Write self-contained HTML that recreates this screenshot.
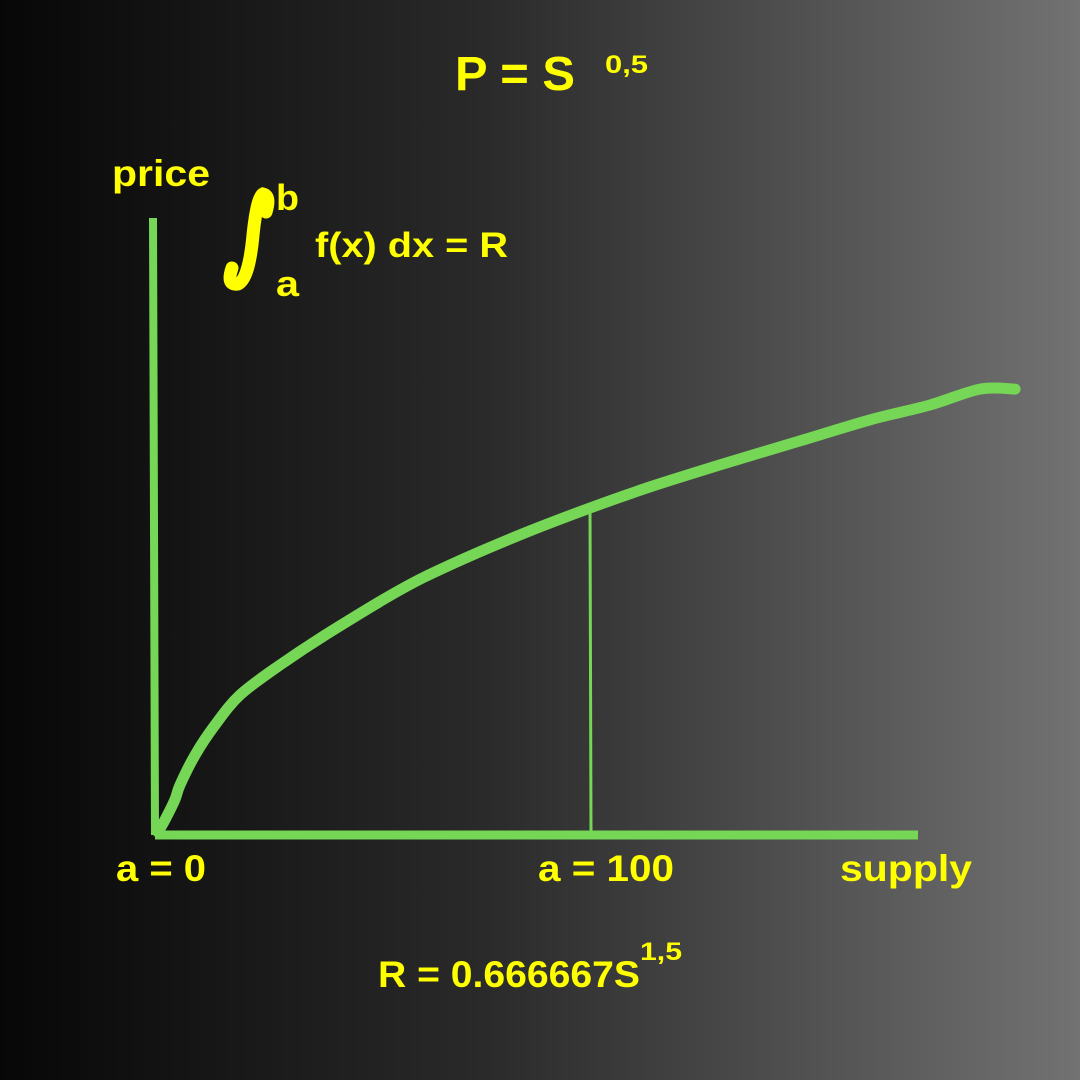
<!DOCTYPE html>
<html><head><meta charset="utf-8"><style>
html,body{margin:0;padding:0;width:1080px;height:1080px;overflow:hidden}
body{background:linear-gradient(to right,#070707 0%,#2a2a2a 45%,#727272 100%);font-family:"Liberation Sans",sans-serif}
svg{position:absolute;left:0;top:0}
text{font-family:"Liberation Sans",sans-serif;font-weight:bold;fill:#ffff00}
</style></head><body>
<svg width="1080" height="1080">
<text x="455" y="90" font-size="48" textLength="120" lengthAdjust="spacingAndGlyphs">P = S</text>
<text x="605" y="73" font-size="25" textLength="43" lengthAdjust="spacingAndGlyphs">0,5</text>
<text x="112" y="186" font-size="37" textLength="98" lengthAdjust="spacingAndGlyphs">price</text>
<path d="M232,268 Q226,286 238,284 Q249,279 253,235 Q257,197 263,194 Q271,196 266,212" fill="none" stroke="#ffff00" stroke-width="13" stroke-linecap="round"/>
<text x="276" y="210" font-size="36" textLength="23" lengthAdjust="spacingAndGlyphs">b</text>
<text x="276" y="296" font-size="36" textLength="23" lengthAdjust="spacingAndGlyphs">a</text>
<text x="315" y="257" font-size="35" textLength="193" lengthAdjust="spacingAndGlyphs">f(x) dx = R</text>
<line x1="153" y1="218" x2="155" y2="835" stroke="#76d655" stroke-width="8"/>
<line x1="155" y1="835" x2="918" y2="835" stroke="#76d655" stroke-width="9"/>
<g id="plot"></g>
<text x="116" y="881" font-size="37" textLength="90" lengthAdjust="spacingAndGlyphs">a = 0</text>
<text x="538" y="881" font-size="37" textLength="136" lengthAdjust="spacingAndGlyphs">a = 100</text>
<text x="840" y="881" font-size="37" textLength="132" lengthAdjust="spacingAndGlyphs">supply</text>
<text x="378" y="987" font-size="37" textLength="262" lengthAdjust="spacingAndGlyphs">R = 0.666667S</text>
<text x="640" y="960" font-size="25" textLength="42" lengthAdjust="spacingAndGlyphs">1,5</text>
</svg>
<script>
const supply=[0,1.6,3.9,5.1,8.6,13.2,19.0,28.2,39.8,56.0,67.6,83.8,100,113.9,130.1,148.6,164.8,178.7,190.3,198.4];
const price=[0,0.37,0.99,1.45,2.38,3.30,4.23,5.15,6.17,7.47,8.24,9.17,10,10.65,11.33,12.07,12.72,13.18,13.67,13.67];
const markerS=[100];
const xS=s=>158+s*4.32;
const yP=p=>832-p*32.4;
const ns="http://www.w3.org/2000/svg";
const g=document.getElementById('plot');
const interp=s=>{for(let i=1;i<supply.length;i++){if(s<=supply[i]){const t=(s-supply[i-1])/(supply[i]-supply[i-1]);return price[i-1]+t*(price[i]-price[i-1]);}}return price[price.length-1];};
markerS.forEach(s=>{
const l=document.createElementNS(ns,'line');
l.setAttribute('x1',xS(s));l.setAttribute('x2',xS(s)+1);
l.setAttribute('y1',yP(interp(s)));l.setAttribute('y2',831);
l.setAttribute('stroke','#76d655');l.setAttribute('stroke-width','3');


g.appendChild(l);
});
const pts=supply.map((s,i)=>[xS(s),yP(price[i])]);
let d='M'+pts[0][0]+','+pts[0][1];
for(let i=0;i<pts.length-1;i++){
const p0=pts[Math.max(0,i-1)],p1=pts[i],p2=pts[i+1],p3=pts[Math.min(pts.length-1,i+2)];
const c1=[p1[0]+(p2[0]-p0[0])/6,p1[1]+(p2[1]-p0[1])/6];
const c2=[p2[0]-(p3[0]-p1[0])/6,p2[1]-(p3[1]-p1[1])/6];
d+=' C'+c1[0].toFixed(1)+','+c1[1].toFixed(1)+' '+c2[0].toFixed(1)+','+c2[1].toFixed(1)+' '+p2[0].toFixed(1)+','+p2[1].toFixed(1);
}
const p=document.createElementNS(ns,'path');
p.setAttribute('d',d);p.setAttribute('fill','none');p.setAttribute('stroke','#76d655');
p.setAttribute('stroke-width','11');p.setAttribute('stroke-linecap','round');p.setAttribute('stroke-linejoin','round');


g.appendChild(p);
</script>
</body></html>
